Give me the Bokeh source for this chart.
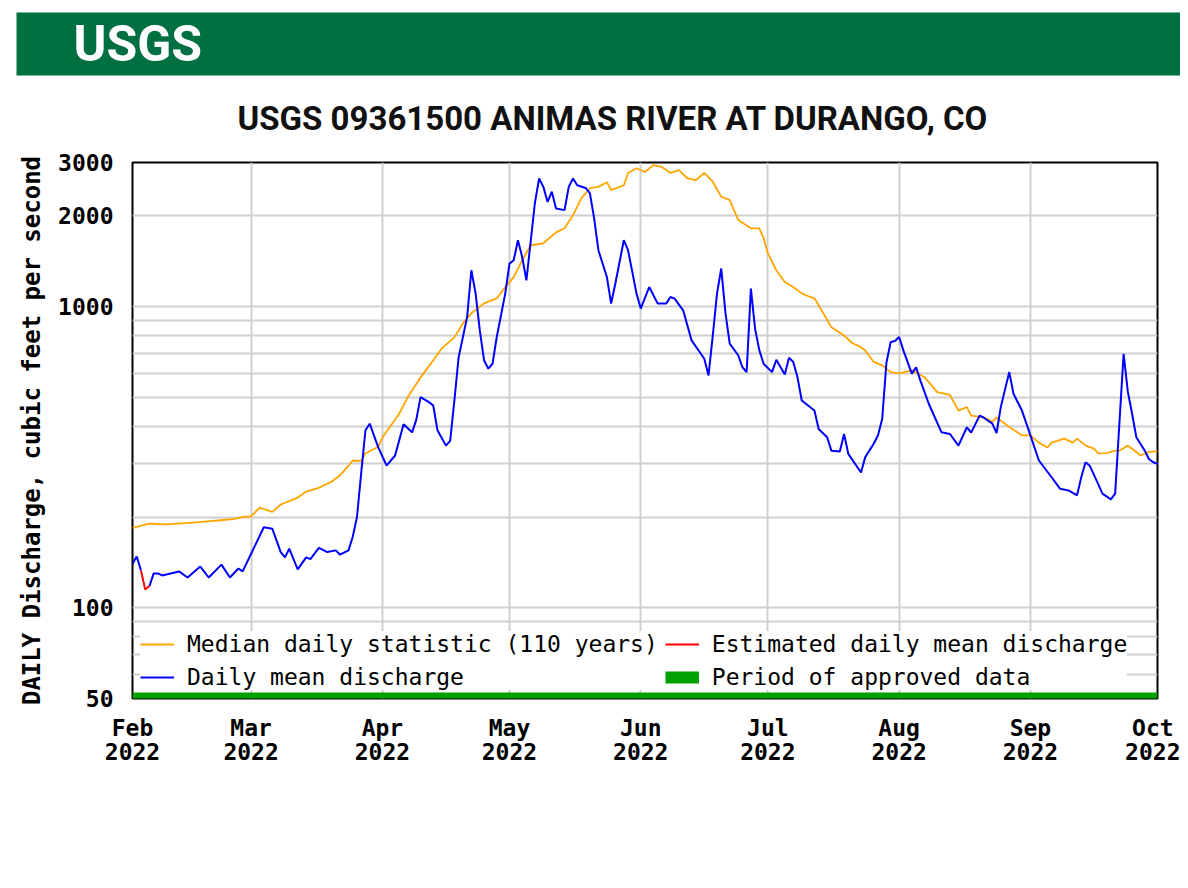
import numpy as np
import pandas as pd
from bokeh.plotting import figure
from bokeh.models import (ColumnDataSource, Range1d, FixedTicker, DatetimeTickFormatter,
                          NumeralTickFormatter, Legend, LegendItem, Title)
from bokeh.embed import file_html
from bokeh.resources import INLINE

# ---------------- data ----------------
median_dates = ["2022-02-01","2022-02-05","2022-02-09","2022-02-16","2022-02-25","2022-02-27",
    "2022-03-01","2022-03-03","2022-03-06","2022-03-08","2022-03-12","2022-03-14","2022-03-17",
    "2022-03-20","2022-03-22","2022-03-24","2022-03-25","2022-03-27","2022-03-28","2022-03-31",
    "2022-04-01","2022-04-05","2022-04-07","2022-04-10","2022-04-13","2022-04-15","2022-04-18",
    "2022-04-20","2022-04-22","2022-04-25","2022-04-28","2022-04-30",
    "2022-05-02","2022-05-04","2022-05-06","2022-05-09","2022-05-12","2022-05-14","2022-05-16",
    "2022-05-18","2022-05-20","2022-05-22","2022-05-24","2022-05-25","2022-05-28","2022-05-29","2022-05-31",
    "2022-06-02","2022-06-04","2022-06-06","2022-06-08","2022-06-10","2022-06-12","2022-06-14",
    "2022-06-16","2022-06-18","2022-06-20","2022-06-22","2022-06-24","2022-06-27","2022-06-29","2022-06-30",
    "2022-07-01","2022-07-03","2022-07-05","2022-07-07","2022-07-09","2022-07-11","2022-07-12",
    "2022-07-13","2022-07-16","2022-07-19","2022-07-21","2022-07-23","2022-07-24","2022-07-26",
    "2022-07-28","2022-07-30",
    "2022-08-01","2022-08-04","2022-08-07","2022-08-10","2022-08-13","2022-08-15","2022-08-17",
    "2022-08-18","2022-08-21","2022-08-23","2022-08-24","2022-08-27","2022-08-30",
    "2022-09-01","2022-09-03","2022-09-05","2022-09-06","2022-09-09","2022-09-11","2022-09-12",
    "2022-09-14","2022-09-16","2022-09-17","2022-09-19","2022-09-21","2022-09-22","2022-09-24",
    "2022-09-25","2022-09-27","2022-09-29","2022-10-01"]
median_cfs = [184,190,189,192,197,200,
    201,215,208,220,232,243,250,
    262,275,296,308,307,325,342,
    367,441,500,581,662,725,789,
    878,948,1023,1063,1156,
    1250,1421,1594,1619,1760,1815,2006,
    2284,2465,2490,2580,2428,2521,2770,2870,
    2790,2940,2900,2770,2830,2660,2622,
    2770,2590,2310,2250,1935,1815,1815,1683,
    1500,1317,1204,1159,1104,1074,1063,
    1008,852,800,754,732,714,654,
    637,605,
    599,613,582,519,508,451,463,
    434,428,414,428,398,373,
    373,353,340,353,364,353,364,
    345,337,325,326,332,332,345,
    337,320,329,330]

mean_dates = ["2022-02-01","2022-02-02","2022-02-03","2022-02-04","2022-02-05","2022-02-06",
    "2022-02-07","2022-02-08","2022-02-12","2022-02-14","2022-02-17","2022-02-19","2022-02-22",
    "2022-02-24","2022-02-26","2022-02-27",
    "2022-03-01","2022-03-04","2022-03-06","2022-03-08","2022-03-09","2022-03-10","2022-03-12",
    "2022-03-14","2022-03-15","2022-03-17","2022-03-19","2022-03-21","2022-03-22","2022-03-24",
    "2022-03-25","2022-03-26","2022-03-27","2022-03-28","2022-03-29","2022-03-31",
    "2022-04-02","2022-04-04","2022-04-06","2022-04-08","2022-04-09","2022-04-10","2022-04-12",
    "2022-04-13","2022-04-14","2022-04-16","2022-04-17","2022-04-18","2022-04-19","2022-04-21",
    "2022-04-22","2022-04-23","2022-04-24","2022-04-25","2022-04-26","2022-04-27","2022-04-28",
    "2022-04-30",
    "2022-05-01","2022-05-02","2022-05-03","2022-05-04","2022-05-05","2022-05-06","2022-05-07",
    "2022-05-08","2022-05-09","2022-05-10","2022-05-11","2022-05-12","2022-05-14","2022-05-15",
    "2022-05-16","2022-05-17","2022-05-19","2022-05-20","2022-05-21","2022-05-22","2022-05-24",
    "2022-05-25","2022-05-26","2022-05-28","2022-05-29","2022-05-31",
    "2022-06-01","2022-06-03","2022-06-05","2022-06-07","2022-06-08","2022-06-09","2022-06-11",
    "2022-06-13","2022-06-16","2022-06-17","2022-06-18","2022-06-19","2022-06-20","2022-06-21",
    "2022-06-22","2022-06-24","2022-06-25","2022-06-26","2022-06-27","2022-06-28","2022-06-29",
    "2022-06-30",
    "2022-07-02","2022-07-03","2022-07-05","2022-07-06","2022-07-07","2022-07-08","2022-07-09",
    "2022-07-12","2022-07-13","2022-07-15","2022-07-16","2022-07-18","2022-07-19","2022-07-20",
    "2022-07-23","2022-07-24","2022-07-26","2022-07-27","2022-07-28","2022-07-29","2022-07-30",
    "2022-07-31",
    "2022-08-01","2022-08-02","2022-08-04","2022-08-05","2022-08-06","2022-08-08","2022-08-11",
    "2022-08-13","2022-08-15","2022-08-17","2022-08-18","2022-08-20","2022-08-21","2022-08-23",
    "2022-08-24","2022-08-25","2022-08-27","2022-08-28","2022-08-30",
    "2022-09-01","2022-09-03","2022-09-06","2022-09-08","2022-09-10","2022-09-12","2022-09-13",
    "2022-09-14","2022-09-15","2022-09-17","2022-09-18","2022-09-20","2022-09-21","2022-09-22",
    "2022-09-23","2022-09-24","2022-09-25","2022-09-26","2022-09-28","2022-09-29","2022-09-30",
    "2022-10-01"]
# None = estimated day (drawn in the estimated series instead)
mean_cfs = [140,148,133,None,118,130,
    130,128,132,126,137,126,139,
    126,135,132,
    151,185,183,153,147,157,134,
    147,145,158,153,155,150,155,
    172,200,280,388,408,341,
    296,320,406,382,420,500,481,
    469,388,345,358,487,678,921,
    1317,1104,832,662,621,645,791,
    1102,
    1386,1421,1657,1458,1220,1636,2200,
    2655,2490,2220,2400,2110,2085,2490,
    2655,2521,2470,2370,1955,1535,1251,
    1021,1190,1657,1535,1102,
    983,1159,1021,1021,1074,1061,970,
    771,670,590,800,1102,1335,950,
    752,688,628,605,1145,840,714,
    645,
    605,665,594,675,654,582,487,
    451,392,368,332,330,377,324,
    281,316,350,373,423,650,761,
    767,
    791,714,598,628,568,475,382,
    377,345,397,381,434,427,408,
    380,463,605,513,451,
    373,308,271,248,245,236,271,
    304,296,257,239,229,239,408,
    696,520,440,368,332,311,304,
    300]

estimated_dates = ["2022-02-03", "2022-02-04", "2022-02-05"]
estimated_cfs = [133, 115, 118]

approved_period = ["2022-02-01", "2022-10-01"]
y_min, y_max = 50, 3000
y_tick_values = [50, 100, 1000, 2000, 3000]
y_minor_values = [60, 70, 80, 90, 200, 300, 400, 500, 600, 700, 800, 900]
month_starts = ["2022-02-01", "2022-03-01", "2022-04-01", "2022-05-01", "2022-06-01",
                "2022-07-01", "2022-08-01", "2022-09-01", "2022-10-01"]

assert len(median_dates) == len(median_cfs)
assert len(mean_dates) == len(mean_cfs)

# ---------------- layout constants ----------------
W, H = 1180, 880
FRAME_L, FRAME_T, FRAME_W, FRAME_H = 132, 162, 1025, 536
MONO = "DejaVu Sans Mono"
SANS = "Roboto"
GREEN = "#006F41"
GRID = "#cfcfcf"

x_start = pd.Timestamp(approved_period[0])
x_end = pd.Timestamp(approved_period[1])
p = figure(width=W, height=H, frame_width=FRAME_W, frame_height=FRAME_H,
           x_axis_type="datetime", y_axis_type="log",
           x_range=Range1d(start=x_start, end=x_end), y_range=Range1d(y_min, y_max),
           toolbar_location=None, output_backend="svg", title_location=None,
           min_border_left=FRAME_L, min_border_right=W - FRAME_L - FRAME_W,
           min_border_top=FRAME_T, min_border_bottom=H - FRAME_T - FRAME_H)
p.outline_line_color = "black"
p.outline_line_width = 2

# chart title (nearest to the frame)
p.add_layout(Title(text="USGS 09361500 ANIMAS RIVER AT DURANGO, CO", align="left", offset=105,
                   standoff=49, text_font=SANS, text_font_size="33px", text_font_style="bold",
                   text_color="#111111"), "above")
# green agency header band (padding = left, right, top, bottom)
p.add_layout(Title(text="USGS", align="left", offset=-116, standoff=-6,
                   text_font=SANS, text_font_size="50px", text_font_style="bold",
                   text_color="white", background_fill_color=GREEN,
                   padding=(57, 1100, 2, 3)), "above")

med_src = ColumnDataSource(dict(date=pd.to_datetime(median_dates), cfs=median_cfs))
mean_src = ColumnDataSource(dict(date=pd.to_datetime(mean_dates),
                                 cfs=[np.nan if v is None else v for v in mean_cfs]))
est_src = ColumnDataSource(dict(date=pd.to_datetime(estimated_dates), cfs=estimated_cfs))
appr_src = ColumnDataSource(dict(date=pd.to_datetime(approved_period), cfs=[y_min, y_min]))

r_med = p.line("date", "cfs", source=med_src, line_color="#FFA500", line_width=1.8)
r_mean = p.line("date", "cfs", source=mean_src, line_color="#0000FF", line_width=2)
r_est = p.line("date", "cfs", source=est_src, line_color="#FF0000", line_width=2)
r_appr = p.line("date", "cfs", source=appr_src, line_color="#00A000", line_width=12)

month_ms = [pd.Timestamp(d).value // 10**6 for d in month_starts]
xt = FixedTicker(ticks=month_ms)
p.xaxis.ticker = xt
p.xgrid.ticker = xt
fmt = "%b\n%Y"
p.xaxis.formatter = DatetimeTickFormatter(microseconds=fmt, milliseconds=fmt, seconds=fmt,
                                          minsec=fmt, minutes=fmt, hourmin=fmt, hours=fmt,
                                          days=fmt, months=fmt, years=fmt)
yt = FixedTicker(ticks=y_tick_values, minor_ticks=y_minor_values)
p.yaxis.ticker = yt
p.ygrid.ticker = yt
p.yaxis.formatter = NumeralTickFormatter(format="0")

for g in (p.xgrid, p.ygrid):
    g.grid_line_color = GRID
    g.grid_line_width = 2
p.ygrid.minor_grid_line_color = GRID
p.ygrid.minor_grid_line_width = 2

for ax in p.axis:
    ax.axis_line_color = None
    ax.major_tick_line_color = None
    ax.minor_tick_line_color = None
    ax.major_tick_out = 0
    ax.minor_tick_out = 0
    ax.major_label_text_font = MONO
    ax.major_label_text_font_style = "bold"
    ax.major_label_text_font_size = "23px"
    ax.major_label_text_color = "black"
p.yaxis.major_label_standoff = 19
p.xaxis.major_label_standoff = 16
p.xaxis.major_label_text_line_height = 0.95
p.yaxis.axis_label = "DAILY Discharge, cubic feet per second"
p.yaxis.axis_label_text_font = MONO
p.yaxis.axis_label_text_font_style = "bold"
p.yaxis.axis_label_text_font_size = "24px"
p.yaxis.axis_label_text_color = "black"
p.yaxis.axis_label_standoff = 9

# legend kept inside the frame, in the empty 50-100 band, so it is not clipped
legend = Legend(items=[
        LegendItem(label="Median daily statistic (110 years)", renderers=[r_med]),
        LegendItem(label="Daily mean discharge", renderers=[r_mean]),
        LegendItem(label="Estimated daily mean discharge", renderers=[r_est]),
        LegendItem(label="Period of approved data", renderers=[r_appr]),
    ],
    orientation="vertical", nrows=2, location=(8, 8),
    border_line_color=None, background_fill_color="white", background_fill_alpha=1,
    padding=4, margin=0, spacing=7,
    label_standoff=13, glyph_width=34, glyph_height=20, label_width=400,
    label_text_font=MONO, label_text_font_size="23px", label_text_color="black")
p.add_layout(legend, "center")

open("out.html", "w").write(file_html(p, INLINE))
